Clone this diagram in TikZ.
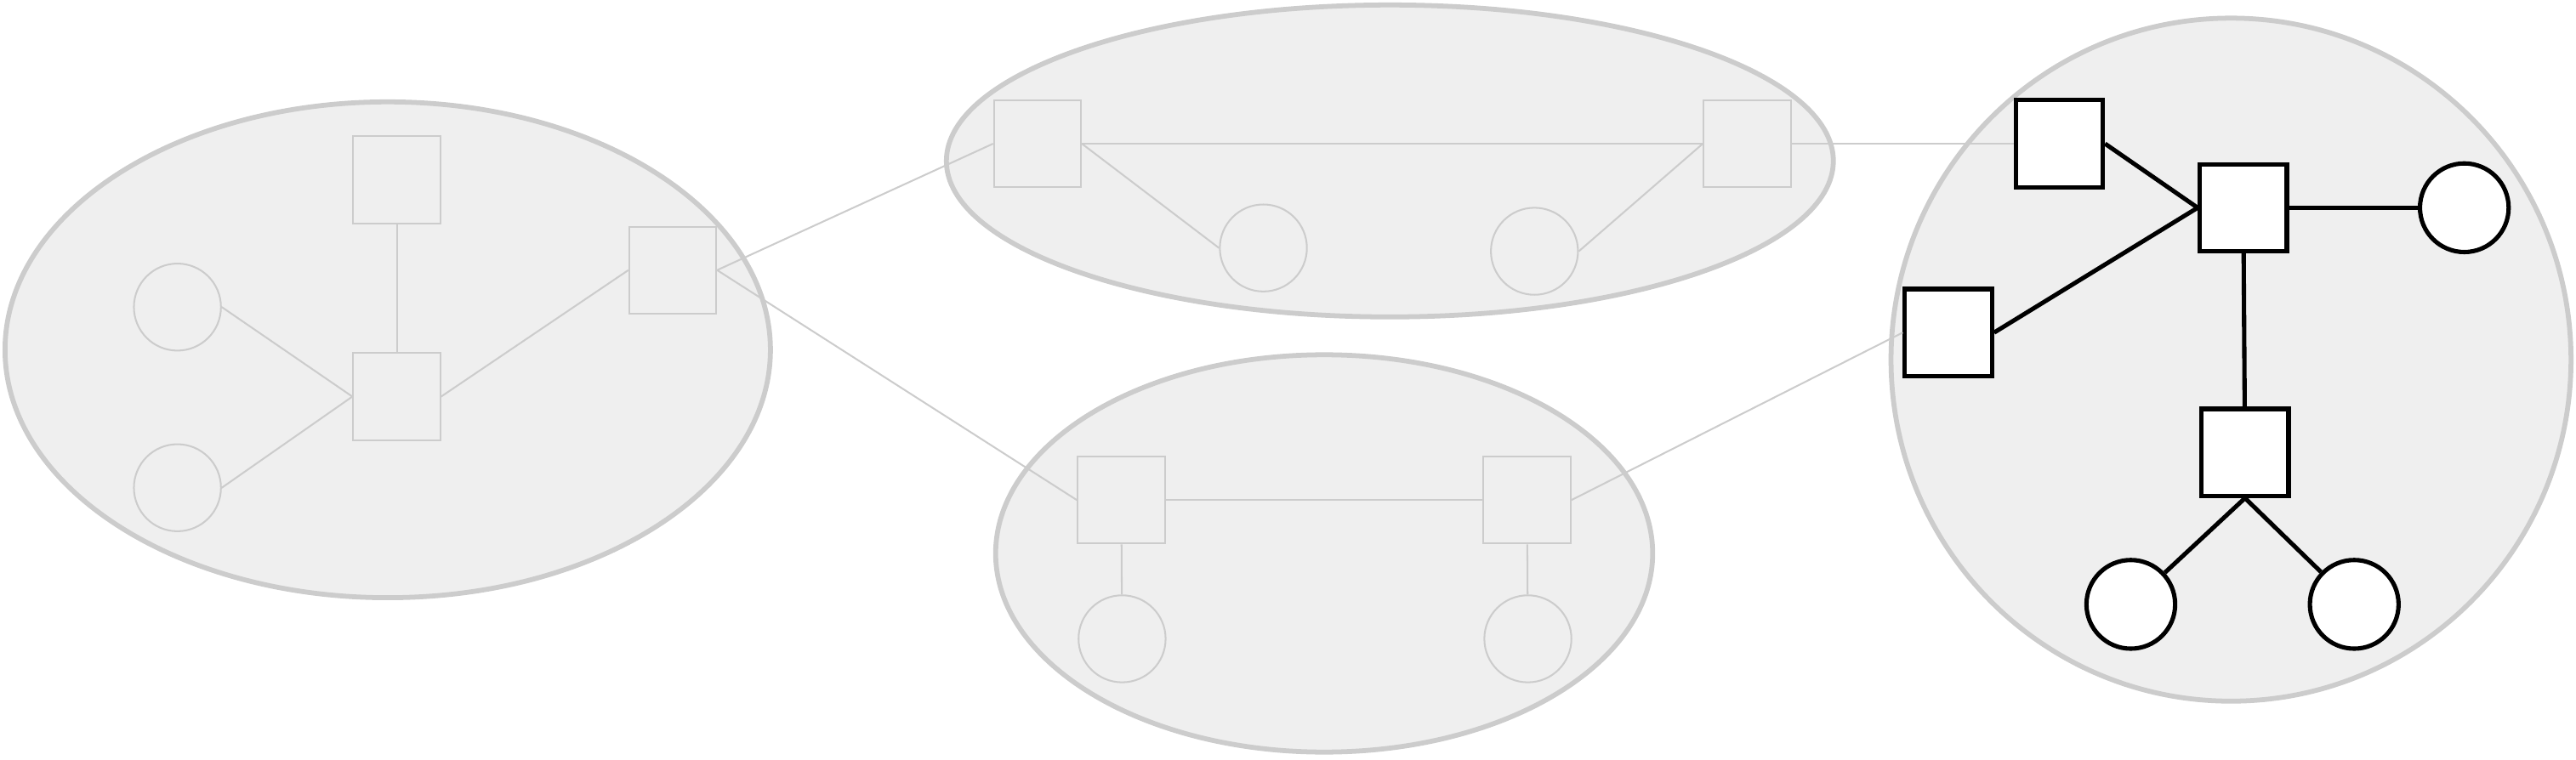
\documentclass[tikz,border=0pt]{standalone}
\usetikzlibrary{positioning}
\definecolor{softgray}{HTML}{CCCCCC}
\definecolor{blobgray}{HTML}{EFEFEF}
\tikzset{
  blob/.style={draw=softgray, fill=blobgray, line width=1.7pt},
  fadebox/.style={draw=softgray, rectangle, minimum size=1.06cm, inner sep=0pt, line width=0.6pt},
  fadeleaf/.style={draw=softgray, circle, minimum size=1.06cm, inner sep=0pt, line width=0.6pt},
  hotbox/.style={draw=black, fill=white, rectangle, minimum size=1.06cm, inner sep=0pt, line width=1.5pt},
  hotleaf/.style={draw=black, fill=white, circle, minimum size=1.08cm, inner sep=0pt, line width=1.5pt},
  fade/.style={draw=softgray, line width=0.6pt},
  hot/.style={draw=black, line width=1.5pt}
}
\begin{document}
\begin{tikzpicture}[x=0.02cm, y=-0.02cm]
  \useasboundingbox (0,0) rectangle (1568,462.3);

  % clusters
  \draw[blob] (236,213) ellipse [x radius=4.66cm, y radius=3.02cm];
  \draw[blob] (846,98) ellipse [x radius=5.40cm, y radius=1.90cm];
  \draw[blob] (806,337) ellipse [x radius=4.00cm, y radius=2.42cm];
  \draw[blob] (1358,219) ellipse [x radius=4.14cm, y radius=4.16cm];

  % left cluster
  \node[fadebox] (L1) at (241.5,109.5) {};
  \node[fadebox] (L2) at (241.5,241.5) {};
  \node[fadebox] (L3) at (409.5,164.5) {};
  \node[fadeleaf] (L4) at (108,187) {};
  \node[fadeleaf] (L5) at (108,297) {};

  % top cluster
  \node[fadebox] (T1) at (631.5,87.5) {};
  \node[fadebox] (T2) at (1063.5,87.5) {};
  \node[fadeleaf] (T3) at (769,151) {};
  \node[fadeleaf] (T4) at (934,153) {};

  % bottom cluster
  \node[fadebox] (B1) at (682.5,304.5) {};
  \node[fadebox] (B2) at (929.5,304.5) {};
  \node[fadeleaf] (B3) at (683,389) {};
  \node[fadeleaf] (B4) at (930,389) {};

  \draw[fade] (L4.east) -- (L2.west);
  \draw[fade] (L5.east) -- (L2.west);
  \draw[fade] (L1) -- (L2);
  \draw[fade] (L2.east) -- (L3.west);
  \draw[fade] (L3.east) -- (T1.west);
  \draw[fade] (L3.east) -- (B1.west);
  \draw[fade] (T1.east) -- (T2.west);
  \draw[fade] (T1.east) -- (T3.west);
  \draw[fade] (T2.west) -- (T4.east);
  \draw[fade] (B1) -- (B2);
  \draw[fade] (B1) -- (B3);
  \draw[fade] (B2) -- (B4);

  % right cluster
  \node[hotbox] (R1) at (1253.5,87.5) {};
  \node[hotbox] (R2) at (1365.5,126.5) {};
  \node[hotbox] (R3) at (1186,202.5) {};
  \node[hotbox] (R4) at (1366.5,275.5) {};
  \node[hotleaf] (R5) at (1500,126.5) {};
  \node[hotleaf] (R6) at (1297,368) {};
  \node[hotleaf] (R7) at (1433,368) {};

  \draw[fade] (T2.east) -- (R1.west);
  \draw[fade] (B2.east) -- (R3.west);
  \draw[hot] (R1.east) -- (R2.west);
  \draw[hot] (R3.east) -- (R2.west);
  \draw[hot] (R2) -- (R5);
  \draw[hot] (R2) -- (R4);
  \draw[hot] (R4.south) -- (R6);
  \draw[hot] (R4.south) -- (R7);
\end{tikzpicture}
\end{document}
